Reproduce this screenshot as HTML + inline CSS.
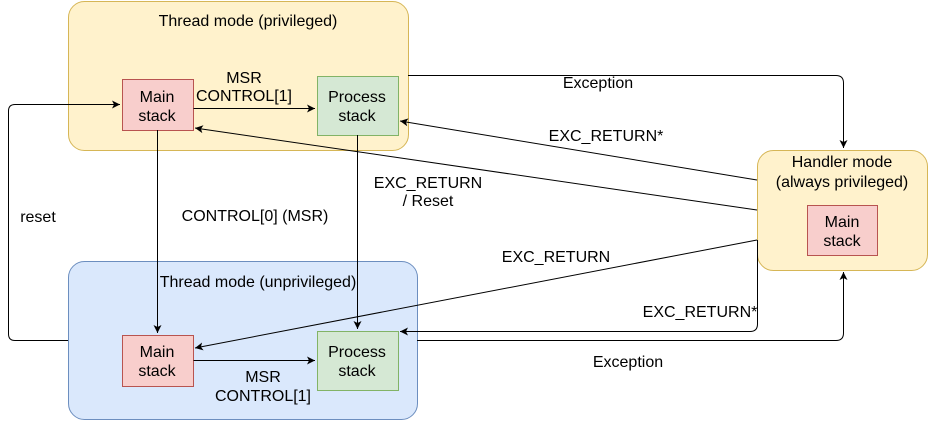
<!DOCTYPE html>
<html><head><meta charset="utf-8"><style>
body{margin:0;background:#fff;}
svg text{font-family:"Liberation Sans",sans-serif;font-size:16px;fill:#000;}
</style></head><body>
<svg width="933" height="421" viewBox="0 0 933 421" xmlns="http://www.w3.org/2000/svg">
<defs><marker id="a" markerWidth="10" markerHeight="10" refX="9" refY="5" orient="auto" markerUnits="userSpaceOnUse"><path d="M1,1 L9,5 L1,9 L3,5 Z" fill="#000"/></marker></defs>
<rect x="68.5" y="1.5" width="340" height="149" rx="16" fill="#fff2cc" stroke="#d6b656"/>
<rect x="68.5" y="261.5" width="349" height="158" rx="16" fill="#dae8fc" stroke="#6c8ebf"/>
<rect x="757.5" y="150.5" width="170" height="120" rx="16" fill="#fff2cc" stroke="#d6b656"/>
<rect x="122.5" y="79.5" width="71" height="51" fill="#f8cecc" stroke="#b85450"/>
<rect x="317.5" y="76.5" width="81" height="59" fill="#d5e8d4" stroke="#82b366"/>
<rect x="122.5" y="335.5" width="71" height="51" fill="#f8cecc" stroke="#b85450"/>
<rect x="317.5" y="331.5" width="81" height="59" fill="#d5e8d4" stroke="#82b366"/>
<rect x="807.5" y="205.5" width="70" height="50" fill="#f8cecc" stroke="#b85450"/>
<g fill="none" stroke="#000" stroke-width="1">
<path d="M193.5,108.5 H315" marker-end="url(#a)"/>
<path d="M408,75.5 H836 Q843.5,75.5 843.5,83 V148" marker-end="url(#a)"/>
<path d="M757,180 L400,121" marker-end="url(#a)"/>
<path d="M757,210 L195,128" marker-end="url(#a)"/>
<path d="M157.5,130 V333" marker-end="url(#a)"/>
<path d="M357.5,135 V329" marker-end="url(#a)"/>
<path d="M68,340.5 H15 Q8.5,340.5 8.5,334 V111 Q8.5,104.5 15,104.5 H120" marker-end="url(#a)"/>
<path d="M757,240 L195,348" marker-end="url(#a)"/>
<path d="M757.5,240 V324 Q757.5,331.5 750,331.5 H400" marker-end="url(#a)"/>
<path d="M417,340.5 H836 Q843.5,340.5 843.5,333 V272" marker-end="url(#a)"/>
<path d="M193.5,360.5 H315" marker-end="url(#a)"/>
</g>
<g text-anchor="middle">
<text x="248" y="26">Thread mode (privileged)</text>
<text x="258" y="287">Thread mode (unprivileged)</text>
<text x="842" y="167">Handler mode</text>
<text x="842" y="187">(always privileged)</text>
<text x="842" y="227">Main</text><text x="842" y="246">stack</text>
<text x="157" y="102">Main</text><text x="157" y="121">stack</text>
<text x="357" y="102">Process</text><text x="357" y="121">stack</text>
<text x="157" y="357">Main</text><text x="157" y="376">stack</text>
<text x="357" y="357">Process</text><text x="357" y="376">stack</text>
<text x="244" y="83">MSR</text><text x="244" y="101">CONTROL[1]</text>
<text x="263" y="382">MSR</text><text x="263" y="401">CONTROL[1]</text>
<text x="598" y="88">Exception</text>
<text x="606" y="141">EXC_RETURN*</text>
<text x="255" y="221">CONTROL[0] (MSR)</text>
<text x="428" y="188">EXC_RETURN</text><text x="428" y="206">/ Reset</text>
<text x="38" y="222">reset</text>
<text x="556" y="262">EXC_RETURN</text>
<text x="700" y="317">EXC_RETURN*</text>
<text x="628" y="367">Exception</text>
</g>
</svg>
</body></html>
